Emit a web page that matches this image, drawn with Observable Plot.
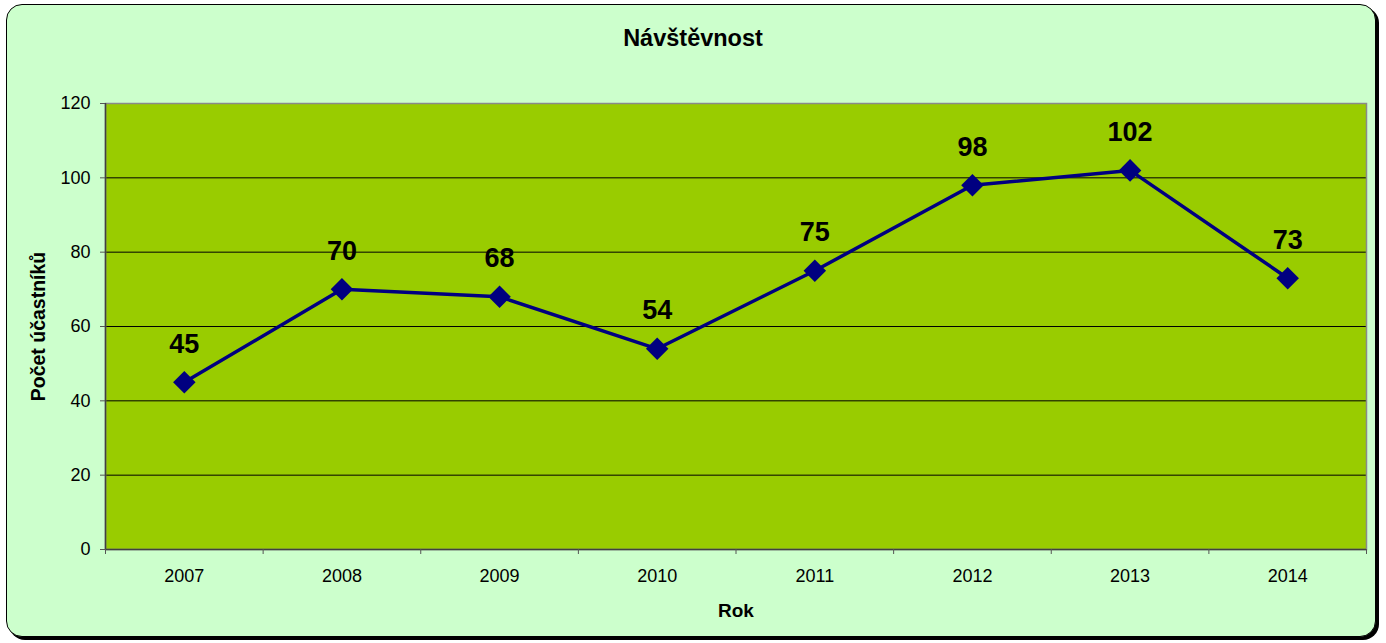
<!DOCTYPE html>
<html>
<head>
<meta charset="utf-8">
<script src="https://cdn.jsdelivr.net/npm/d3@7"></script>
<script src="https://cdn.jsdelivr.net/npm/@observablehq/plot@0.6"></script>
<style>
  html, body { margin: 0; padding: 0; width: 1386px; height: 643px; background: #ffffff; overflow: hidden; font-family: Arial, "Liberation Sans", sans-serif; }
  #card { position: absolute; left: 6px; top: 4px; width: 1368px; height: 631px; background: #CCFFCC; border: 1.5px solid #000; border-radius: 16px; box-shadow: 3px 3px 0 #000; }
  #title { position: absolute; left: 0; top: 24px; width: 1386px; text-align: center; font-size: 23.5px; line-height: 28px; font-weight: bold; color: #000; }
  #chart { position: absolute; left: 0; top: 60px; }
</style>
</head>
<body>
<div id="card"></div>
<div id="title">Návštěvnost</div>
<div id="chart"></div>
<script>
const years = [2007, 2008, 2009, 2010, 2011, 2012, 2013, 2014];
const visitors = [45, 70, 68, 54, 75, 98, 102, 73];
const yTicks = [0, 20, 40, 60, 80, 100, 120];
const gridValues = [20, 40, 60, 80, 100];
const yLabel = "Počet účastníků";
const xLabel = "Rok";

const data = years.map((y, i) => ({year: y, value: visitors[i]}));
const boundaries = [years[0] - 0.5, ...years.map(y => y + 0.5)];

const diamond = {
  draw(context, size) {
    const h = Math.sqrt(size / 2);
    context.moveTo(0, -h);
    context.lineTo(h, 0);
    context.lineTo(0, h);
    context.lineTo(-h, 0);
    context.closePath();
  }
};

const chart = Plot.plot({
  width: 1386,
  height: 583,
  marginLeft: 105,
  marginRight: 20,
  marginTop: 43,
  marginBottom: 94,
  style: {background: "transparent", fontFamily: "Arial, 'Liberation Sans', sans-serif", color: "#000"},
  x: {type: "linear", domain: [years[0] - 0.5, years[years.length - 1] + 0.5], axis: null},
  y: {domain: [0, 120], axis: null},
  marks: [
    Plot.frame({fill: "#99CC00", stroke: "none"}),
    Plot.ruleY(gridValues, {stroke: "#000", strokeWidth: 1}),
    Plot.frame({stroke: "#8a8a8a", strokeWidth: 1.5}),
    Plot.ruleX([years[0] - 0.5], {stroke: "#404040", strokeWidth: 1.5}),
    Plot.ruleY([0], {stroke: "#404040", strokeWidth: 1.5}),
    Plot.axisY({ticks: yTicks, tickSize: 5, tickPadding: 10, fontSize: 18, stroke: "#555", fill: "#000", tickFormat: d => String(d), label: null}),
    Plot.axisX({ticks: boundaries, tickSize: 5, tickFormat: () => "", stroke: "#555", label: null}),
    Plot.axisX({ticks: years, tickSize: 0, tickPadding: 20, fontSize: 18, fill: "#000", tickFormat: d => String(d), label: null}),
    Plot.line(data, {x: "year", y: "value", stroke: "#000080", strokeWidth: 3.5}),
    Plot.dot(data, {x: "year", y: "value", symbol: diamond, r: 9, fill: "#000080", stroke: "none"}),
    Plot.text(data, {x: "year", y: "value", text: d => String(d.value), dy: -38, fontSize: 27, fontWeight: "bold", fill: "#000"}),
    Plot.text([yLabel], {frameAnchor: "left", dx: -67, rotate: -90, textAnchor: "middle", lineAnchor: "middle", fontSize: 19.5, fontWeight: "bold", fill: "#000"}),
    Plot.text([xLabel], {frameAnchor: "bottom", dy: 61, textAnchor: "middle", lineAnchor: "middle", fontSize: 19, fontWeight: "bold", fill: "#000"})
  ]
});
document.getElementById("chart").appendChild(chart);
</script>
</body>
</html>
